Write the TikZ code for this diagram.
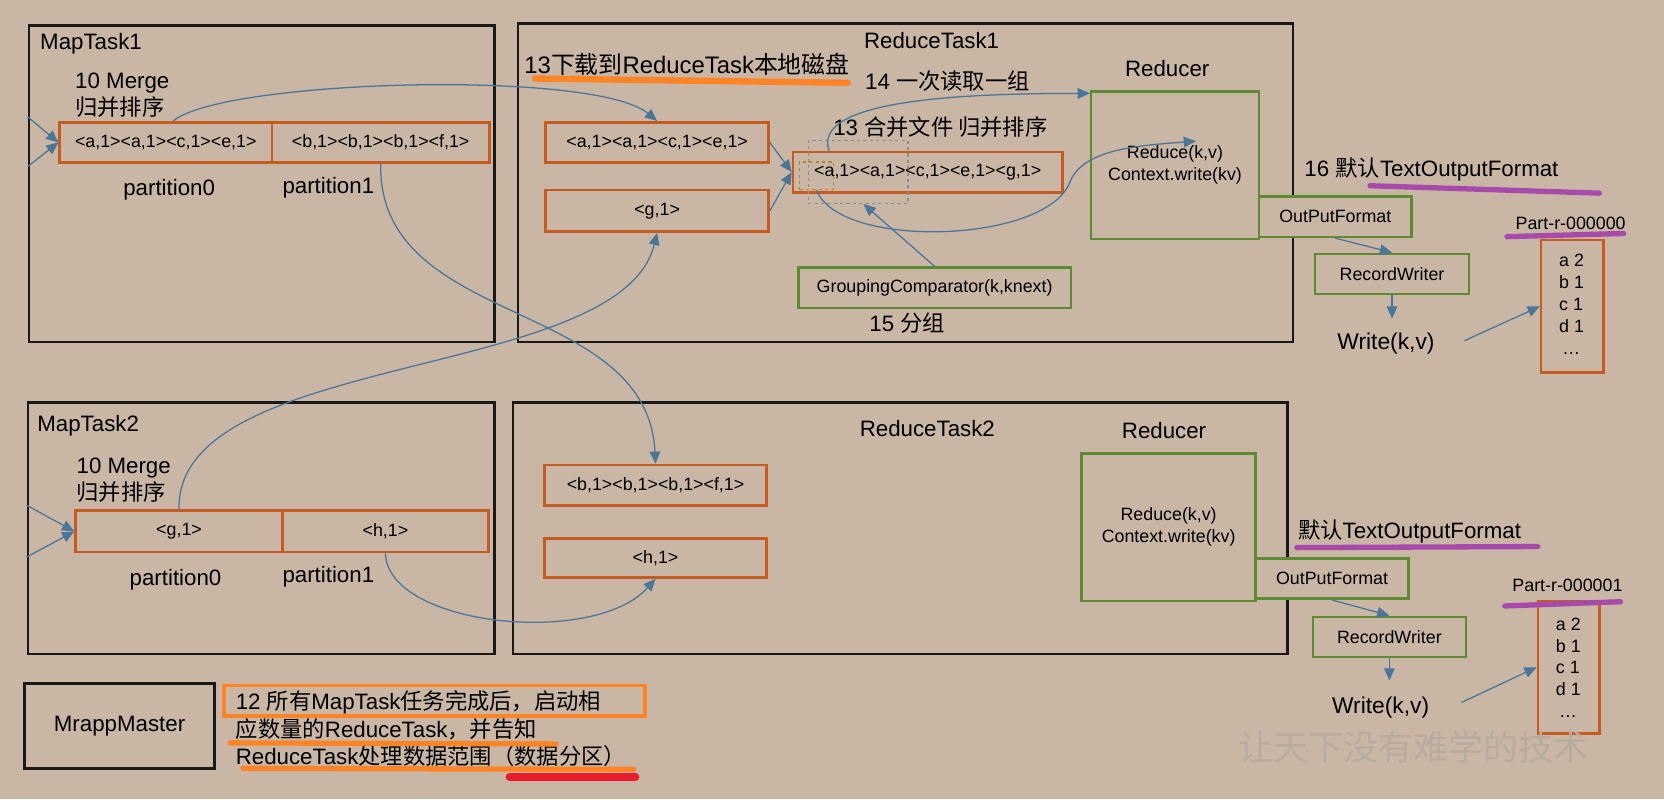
\documentclass[tikz,border=0pt]{standalone}
\usepackage{fontspec}
\setmainfont{Liberation Sans}
\newfontfamily\zh{Noto Sans CJK SC}
\usetikzlibrary{arrows.meta}
\definecolor{bg}{HTML}{C9B6A5}
\definecolor{boxorange}{HTML}{C65B22}
\definecolor{boxgreen}{HTML}{5F8A34}
\definecolor{linkblue}{HTML}{4B7698}
\definecolor{hlorange}{HTML}{FF8426}
\definecolor{hlred}{HTML}{E81C2A}
\definecolor{hlpurple}{HTML}{A84AAA}
\definecolor{wmgray}{HTML}{B8AC9F}
\definecolor{dashgray}{HTML}{8C8C8C}
\definecolor{dashgold}{HTML}{B08A2A}
\begin{document}
\begin{tikzpicture}[x=1pt,y=-1pt,
  frame/.style={draw=black!90,line width=2.3pt,anchor=north west,inner sep=0pt},
  obox/.style={draw=boxorange,line width=2.4pt,anchor=north west,inner sep=0pt,font=\fontsize{16.8}{20.6}\selectfont},
  gbox/.style={draw=boxgreen,fill=bg,line width=2.4pt,anchor=north west,inner sep=0pt,align=center,font=\fontsize{16.8}{20.6}\selectfont},
  lbl/.style={anchor=base west,inner sep=0pt,font=\fontsize{21}{25.6}\selectfont},
  sml/.style={anchor=base west,inner sep=0pt,font=\fontsize{16.8}{20.8}\selectfont},
  conn/.style={draw=linkblue,line width=1.2pt,-{Triangle[length=11.5pt,width=10pt]}},
  hl/.style={line width=#1,line cap=round}]
\path[use as bounding box,fill=bg] (0,0) rectangle (1568,753);

\node[frame,minimum width=439pt,minimum height=298pt] (mt1) at (26,23) {};
\node[frame,minimum width=730pt,minimum height=300pt] (rt1) at (487,21) {};
\node[frame,minimum width=440pt,minimum height=237pt] (mt2) at (25,378) {};
\node[frame,minimum width=730pt,minimum height=237pt] (rt2) at (482,378) {};
\node[frame,minimum width=179pt,minimum height=80pt,font=\fontsize{21}{25}\selectfont] (mm) at (22,643) {MrappMaster};

\node[obox,minimum width=200pt,minimum height=38pt] (p0) at (55,114) {<a,1><a,1><c,1><e,1>};
\node[obox,minimum width=205pt,minimum height=38pt] (p1) at (255,114) {<b,1><b,1><b,1><f,1>};
\node[obox,minimum width=195pt,minimum height=39pt] (q0) at (70,480) {<g,1>};
\node[obox,minimum width=194pt,minimum height=39pt] (q1) at (265,480) {<h,1>};
\node[obox,minimum width=210pt,minimum height=38pt] (a1) at (513,114) {<a,1><a,1><c,1><e,1>};
\node[obox,minimum width=210pt,minimum height=39pt] (g1) at (513,178) {<g,1>};
\node[obox,minimum width=254pt,minimum height=38pt] (mg) at (746,142) {<a,1><a,1><c,1><e,1><g,1>};
\node[obox,minimum width=209pt,minimum height=38pt] (b1) at (512,437) {<b,1><b,1><b,1><f,1>};
\node[obox,minimum width=209pt,minimum height=37pt] (h1) at (512,506) {<h,1>};
\node[obox,minimum width=59pt,minimum height=125pt] (pt1) at (1451,225) {};
\node[obox,minimum width=58pt,minimum height=125pt] (pt2) at (1448,565) {};
\node[draw=dashgray,dashed,line width=1.2pt,anchor=north west,minimum width=94pt,minimum height=59pt] (gd) at (761,132) {};
\node[draw=dashgold,dashed,line width=1.2pt,anchor=north west,minimum width=32pt,minimum height=26pt] (sd) at (753,152) {};

\node[gbox,minimum width=158pt,minimum height=139pt] (rd1) at (1027,85) {Reduce(k,v)\\Context.write(kv)};
\node[gbox,minimum width=257pt,minimum height=38pt] (grp) at (751,251) {GroupingComparator(k,knext)};
\node[gbox,minimum width=144pt,minimum height=38pt] (of1) at (1185,184) {OutPutFormat};
\node[gbox,minimum width=145pt,minimum height=38pt] (rw1) at (1238,238) {RecordWriter};
\node[gbox,minimum width=164pt,minimum height=139pt] (rd2) at (1018,426) {Reduce(k,v)\\Context.write(kv)};
\node[gbox,minimum width=144pt,minimum height=38pt] (of2) at (1182,525) {OutPutFormat};
\node[gbox,minimum width=144pt,minimum height=38pt] (rw2) at (1236,580) {RecordWriter};

\node[lbl] (t1) at (37.7,47) {MapTask1};
\node[lbl] (m1a) at (70.7,83.2) {10 Merge};
\node[lbl] (m1b) at (70.7,108.8) {\zh 归并排序};
\node[lbl] (pl0) at (116,184) {partition0};
\node[lbl] (pl1) at (266,182) {partition1};
\node[lbl] (t2) at (35,407) {MapTask2};
\node[lbl] (m2a) at (72,446) {10 Merge};
\node[lbl] (m2b) at (72,471.6) {\zh 归并排序};
\node[lbl] (ql0) at (122,552) {partition0};
\node[lbl] (ql1) at (266,548.5) {partition1};
\node[lbl] (rt1l) at (814,45.5) {ReduceTask1};
\node[lbl,font=\fontsize{22.5}{26}\selectfont] (s13a) at (494,69) {13{\zh 下载到}ReduceTask{\zh 本地磁盘}};
\node[lbl] (s14) at (815,84.8) {14 {\zh 一次读取一组}};
\node[lbl] (s13b) at (785,128) {13 {\zh 合并文件 归并排序}};
\node[lbl] (rdl1) at (1060,72.2) {Reducer};
\node[lbl] (s15) at (819,312) {15 {\zh 分组}};
\node[lbl] (s16) at (1229,165.9) {16 {\zh 默认}TextOutputFormat};
\node[lbl,font=\fontsize{21.5}{26}\selectfont] (wr1) at (1260,329) {Write(k,v)};
\node[sml] (pn1) at (1428,216) {Part-r-000000};
\node[lbl] (rt2l) at (810,411) {ReduceTask2};
\node[lbl] (rdl2) at (1057,413) {Reducer};
\node[lbl] (s16b) at (1223,507) {{\zh 默认}TextOutputFormat};
\node[lbl,font=\fontsize{21.5}{26}\selectfont] (wr2) at (1255,672) {Write(k,v)};
\node[sml] (pn2) at (1425,557) {Part-r-000001};
\foreach \t [count=\i] in {a 2,b 1,c 1,d 1,\hspace{3pt}…} {
  \node[sml] (pa\i) at (1469,230.2+20.8*\i) {\t};
  \node[sml] (pb\i) at (1466,573.2+20.6*\i) {\t};
}
\node[lbl] (n12a) at (222,669) {12 {\zh 所有}MapTask{\zh 任务完成后，启动相}};
\node[lbl] (n12b) at (222,694.5) {{\zh 应数量的}ReduceTask{\zh ，并告知}};
\node[lbl] (n12c) at (222,720) {ReduceTask{\zh 处理数据范围（数据分区）}};
\node[anchor=base west,inner sep=0pt,text=wmgray,font=\zh\fontsize{33}{33}\selectfont] (wm) at (1167,717) {让天下没有难学的技术};

\draw[hl=6pt,draw=hlorange] (504,74) -- (799,78);
\draw[hl=5pt,draw=hlpurple] (1291,175) -- (1507,182);
\draw[hl=5pt,draw=hlpurple] (1420,223) -- (1530,220);
\draw[hl=5pt,draw=hlpurple] (1222,516) -- (1449,515);
\draw[hl=5pt,draw=hlpurple] (1418,571) -- (1527,567);
\draw[draw=hlorange,line width=3.5pt] (211,646) rectangle (608,675);
\draw[hl=5pt,draw=hlorange] (217,700) -- (524,701);
\draw[hl=5pt,draw=hlorange] (229,724) -- (597,725);
\draw[hl=7pt,draw=hlred] (480,732) -- (599,732);

\coordinate (i1a) at (26,110);
\coordinate (i1b) at (26,157);
\coordinate (i2a) at (25,476);
\coordinate (i2b) at (25,525);
\coordinate (rtip) at (1127,133);
\coordinate (w1s) at (1380,321);
\coordinate (w2s) at (1377,662);
\draw[conn] (i1a) -- (p0.west);
\draw[conn] (i1b) -- (p0.west);
\draw[conn] (i2a) -- (q0.west);
\draw[conn] (i2b) -- (q0.west);
\draw[conn] (a1.east) -- (mg.west);
\draw[conn] (g1.east) -- (mg.west);
\draw[conn] ([xshift=7pt]p0.north) .. controls (210,75) and (560,65) .. (a1.north);
\draw[conn] (p1.south) .. controls (356,310) and (610,280) .. (b1.north);
\draw[conn] (q0.north) .. controls (165,330) and (585,360) .. (g1.south);
\draw[conn] (q1.south) .. controls (365,590) and (560,610) .. (h1.south);
\draw[conn] ([xshift=-93pt]mg.north) .. controls (765,95) and (900,88) .. ([yshift=-3pt]rd1.north west);
\draw[conn] (sd.south) .. controls (790,235) and (985,230) .. (1008,172) .. controls (1020,140) and (1075,137) .. (rtip);
\draw[conn] (grp.north) -- ([xshift=5pt]gd.south);
\draw[conn] (of1.south) -- (rw1.north);
\draw[conn,shorten >=13pt] (rw1.south) -- (rw1.south |- wr1.north);
\draw[conn] (w1s) -- (pt1.west);
\draw[conn] (of2.south) -- (rw2.north);
\draw[conn,shorten >=15pt] (rw2.south) -- (rw2.south |- wr2.north);
\draw[conn] (w2s) -- (pt2.west);
\end{tikzpicture}
\end{document}
